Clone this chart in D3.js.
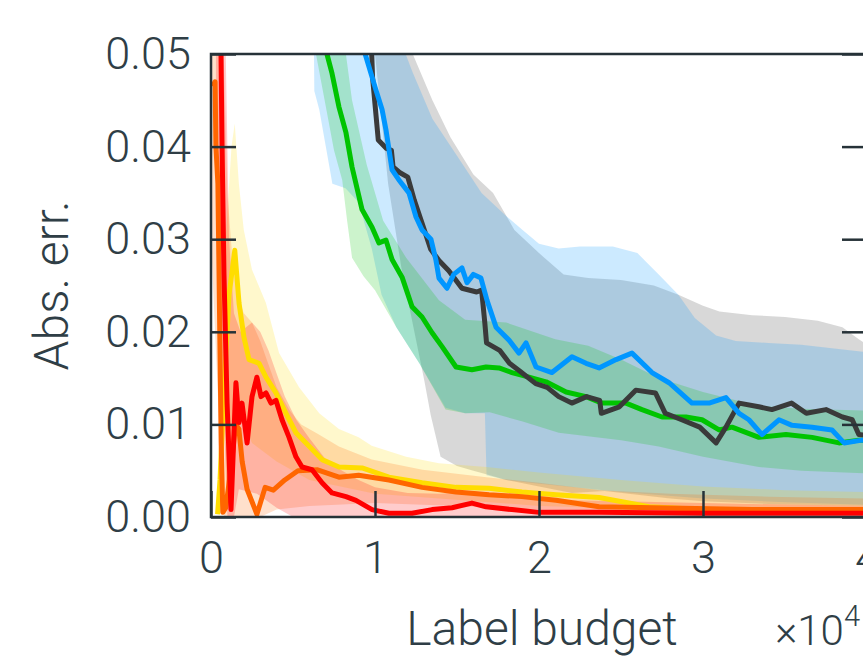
<!DOCTYPE html>
<html>
<head>
<meta charset="utf-8">
<script src="https://d3js.org/d3.v7.min.js"></script>
<style>
  body { margin: 0; background: #fff; }
  text { font-family: Roboto, "Open Sans", sans-serif; font-weight: 300; fill: #2f3e46; }
</style>
</head>
<body>
<script>
// tick values
const budgetTicks = [0, 10000, 20000, 30000, 40000];
const errTicks = [0, 0.01, 0.02, 0.03, 0.04, 0.05];

// mean lines  [label budget, abs. error]
const blackLine = [[9700,0.056],[9800,0.050],[9850,0.0475],[10200,0.0407],[10700,0.0398],[11000,0.0396],[11100,0.0378],[11500,0.0372],[12000,0.0367],[12400,0.0342],[12800,0.0321],[13400,0.0289],[13900,0.0277],[14500,0.0266],[15300,0.0247],[16200,0.0243],[16500,0.0245],[16700,0.0209],[16800,0.0188],[17600,0.0180],[18200,0.0166],[18800,0.0158],[19800,0.0144],[20500,0.0140],[21200,0.0130],[22000,0.0123],[22900,0.0130],[23700,0.0126],[23800,0.0112],[24900,0.0119],[25900,0.0137],[27100,0.0134],[27700,0.0112],[28700,0.0105],[29800,0.0097],[30800,0.0080],[31400,0.0097],[32200,0.0123],[33400,0.0119],[34200,0.0116],[35400,0.0123],[36300,0.0112],[37500,0.0116],[38500,0.0108],[39100,0.0105],[39500,0.0089],[40000,0.0088]];
const blueLine = [[9200,0.056],[9400,0.050],[10060,0.0461],[10430,0.0440],[10670,0.0418],[11040,0.0375],[11460,0.0364],[12070,0.0350],[12500,0.0324],[12870,0.0310],[13410,0.0300],[13720,0.0277],[13900,0.0258],[14390,0.0247],[14800,0.0262],[15300,0.0269],[15610,0.0253],[16000,0.0262],[16460,0.0258],[16830,0.0234],[17380,0.0205],[18170,0.0191],[18780,0.0177],[19210,0.0188],[19820,0.0162],[20790,0.0156],[22010,0.0173],[22870,0.0166],[23660,0.0161],[24700,0.0170],[25670,0.0177],[26890,0.0156],[27930,0.0145],[29330,0.0123],[30370,0.0123],[31400,0.0129],[32200,0.0112],[32800,0.0105],[33600,0.0089],[34630,0.0105],[35430,0.0099],[36650,0.0097],[37870,0.0094],[38600,0.0080],[39700,0.0083],[40000,0.0082]];
const greenLine = [[6700,0.056],[7070,0.050],[7380,0.0479],[7800,0.0443],[8230,0.0415],[8600,0.0378],[9210,0.0332],[9820,0.0313],[10240,0.0296],[10670,0.0299],[11040,0.0278],[11650,0.0259],[12260,0.0227],[12870,0.0216],[13480,0.0199],[14090,0.0184],[14940,0.0162],[15910,0.0159],[16770,0.0162],[17560,0.0161],[18350,0.0156],[19390,0.0151],[20430,0.0146],[21650,0.0135],[22870,0.0130],[23840,0.0123],[25300,0.0123],[26280,0.0116],[27500,0.0108],[28960,0.0108],[29940,0.0105],[30980,0.0094],[31770,0.0097],[33410,0.0086],[35060,0.0089],[36650,0.0086],[38290,0.0080],[39510,0.0083],[40000,0.0083]];
const yellowLine = [[400,0.0003],[550,0.004],[800,0.014],[1100,0.024],[1450,0.0288],[1710,0.0231],[2010,0.0194],[2320,0.0170],[2930,0.0166],[3350,0.0151],[3960,0.0134],[4570,0.0112],[5180,0.0091],[5790,0.0080],[6770,0.0062],[7800,0.0054],[9210,0.0053],[10850,0.0043],[12870,0.0037],[14940,0.0032],[16950,0.0031],[18960,0.0027],[21040,0.0024],[23660,0.0021],[26710,0.0011],[30000,0.0008],[35000,0.0006],[40000,0.0005]];
const orangeLine = [[100,0.0465],[250,0.047],[300,0.040],[420,0.036],[520,0.022],[620,0.008],[720,0.0005],[900,0.001],[1200,0.005],[1500,0.0100],[1700,0.0095],[1900,0.006],[2200,0.003],[2800,0.0003],[3300,0.0032],[3800,0.0029],[4500,0.0040],[5300,0.0050],[6500,0.0051],[7800,0.0043],[9000,0.0045],[10850,0.0040],[12870,0.0032],[14940,0.0027],[16950,0.0024],[18960,0.0022],[21040,0.0018],[23660,0.0011],[27000,0.0010],[33000,0.0008],[40000,0.0008]];
const redLine = [[450,0.058],[610,0.050],[670,0.0407],[790,0.0263],[980,0.0123],[1220,0.0008],[1520,0.0145],[1710,0.0102],[1890,0.0123],[2200,0.0080],[2500,0.0130],[2800,0.0151],[3050,0.0130],[3350,0.0134],[3660,0.0123],[3960,0.0126],[4330,0.0105],[4760,0.0086],[5180,0.0065],[5550,0.0054],[6160,0.0051],[6770,0.0037],[7380,0.0026],[8230,0.0022],[8840,0.0018],[9820,0.0008],[10850,0.0004],[12260,0.0004],[13480,0.0008],[14700,0.0010],[15910,0.0015],[16770,0.0011],[18350,0.0008],[20000,0.0005],[23660,0.0005],[30000,0.0004],[40000,0.0004]];

// spread bands: upper and lower edges
const blackUpper = [[9000,0.065],[12300,0.050],[13500,0.045],[14600,0.041],[16000,0.037],[17200,0.035],[18500,0.031],[20000,0.0285],[21500,0.0262],[23000,0.0258],[25000,0.0256],[27000,0.0250],[28500,0.0240],[30000,0.0228],[31000,0.0222],[33000,0.0218],[35000,0.0216],[37000,0.0212],[38500,0.0205],[39500,0.0192],[40000,0.0186]];
const blackLower = [[9500,0.065],[10000,0.050],[10800,0.036],[11600,0.027],[12400,0.020],[13000,0.0148],[13400,0.0110],[14000,0.0065],[15000,0.0055],[16000,0.0050],[17000,0.0045],[18000,0.0040],[20000,0.0033],[22000,0.0026],[24000,0.0028],[26000,0.0024],[28000,0.0020],[30000,0.0017],[34000,0.0014],[40000,0.0012]];
const blueUpper = [[9200,0.065],[11000,0.054],[12300,0.048],[13500,0.043],[15000,0.039],[16500,0.035],[18000,0.0325],[19000,0.031],[20000,0.0295],[21200,0.0290],[22500,0.0292],[24500,0.0292],[26000,0.0285],[27300,0.0262],[28500,0.0240],[29500,0.0215],[30800,0.0196],[32000,0.0190],[34000,0.0188],[36000,0.0186],[38000,0.0182],[40000,0.0178]];
const blueLower = [[6200,0.065],[6300,0.046],[6600,0.044],[7000,0.040],[7400,0.036],[8200,0.0355],[9000,0.034],[9800,0.029],[10400,0.024],[11300,0.0205],[12700,0.0166],[14300,0.0118],[15500,0.0112],[16700,0.0112],[16800,0.0045],[18000,0.0040],[20000,0.0036],[25000,0.0027],[30000,0.0020],[35000,0.0016],[40000,0.0013]];
const greenUpper = [[7500,0.065],[8000,0.053],[8600,0.045],[9500,0.038],[10500,0.032],[11900,0.028],[13900,0.0234],[15500,0.0213],[18000,0.0210],[21000,0.0192],[23000,0.0185],[25000,0.0170],[27300,0.0150],[30000,0.0135],[33400,0.0120],[36000,0.0117],[40000,0.0115]];
const greenLower = [[6300,0.065],[6400,0.050],[7500,0.0396],[8000,0.0364],[8300,0.032],[8600,0.028],[9300,0.026],[10000,0.0245],[11300,0.0205],[12700,0.0166],[14300,0.0116],[15500,0.0112],[17000,0.0113],[19000,0.0103],[21200,0.0091],[25000,0.0083],[27300,0.0076],[30000,0.0065],[33400,0.0054],[36000,0.0050],[40000,0.0047]];
const yellowUpper = [[900,0.030],[1250,0.040],[1450,0.0425],[1700,0.036],[2000,0.031],[2500,0.0267],[3350,0.0231],[4150,0.0177],[5370,0.0140],[6600,0.0112],[7800,0.0095],[9000,0.0086],[9800,0.0077],[11900,0.0065],[13900,0.0058],[16800,0.0054],[20000,0.0048],[25000,0.0040],[30000,0.0033],[35000,0.0029],[40000,0.0027]];
const yellowLower = [[900,0.0],[1500,0.012],[2500,0.008],[4000,0.006],[6000,0.004],[10000,0.0025],[20000,0.0012],[40000,0.0002]];
const orangeUpper = [[0,0.065],[700,0.055],[1000,0.035],[1300,0.028],[1600,0.024],[2000,0.022],[2500,0.021],[3000,0.019],[3500,0.0165],[4000,0.0140],[4800,0.0115],[5500,0.0100],[6500,0.0090],[7800,0.0076],[9800,0.0062],[12900,0.0051],[16800,0.0043],[20000,0.0037],[23700,0.0029],[28000,0.0025],[34000,0.0022],[40000,0.0020]];
const orangeLower = [[0,0.030],[500,0.010],[800,0.0],[3000,0.0],[4000,0.0008],[6000,0.0012],[10000,0.0015],[15000,0.0012],[20000,0.0008],[30000,0.0004],[40000,0.0003]];
const redUpper = [[300,0.065],[900,0.050],[1100,0.030],[1400,0.022],[1800,0.020],[2500,0.021],[3000,0.020],[3500,0.018],[4000,0.0155],[4500,0.0130],[5200,0.0105],[6000,0.0085],[7000,0.0062],[8000,0.0050],[9000,0.0040],[10000,0.0032],[12000,0.0026],[14000,0.0025],[16000,0.0028],[18000,0.0022],[22000,0.0018],[30000,0.0015],[40000,0.0012]];
const redLower = [[300,0.040],[800,0.010],[1000,0.0],[1400,0.0],[1700,0.0030],[2800,0.0025],[4000,0.0010],[5000,0.0],[40000,0.0]];

const series = [
  {key:"green",  color:"#00c400", line:greenLine,  up:greenUpper,  lo:greenLower},
  {key:"black",  color:"#3a3a3a", line:blackLine,  up:blackUpper,  lo:blackLower},
  {key:"blue",   color:"#0096ff", line:blueLine,   up:blueUpper,   lo:blueLower},
  {key:"yellow", color:"#ffdd00", line:yellowLine, up:yellowUpper, lo:yellowLower},
  {key:"orange", color:"#ff6600", line:orangeLine, up:orangeUpper, lo:orangeLower},
  {key:"red",    color:"#ff0000", line:redLine,    up:redUpper,    lo:redLower}
];
const bandOrder = ["black","blue","green","yellow","orange","red"];

const W = 863, H = 657;
const pLeft = 211, pTop = 54, pRight = 867, pBottom = 517;
const axisColor = "#263238";

const x = d3.scaleLinear().domain([0, 40000]).range([pLeft, pRight]);
const y = d3.scaleLinear().domain([0, 0.05]).range([pBottom, pTop]);

const svg = d3.select("body").append("svg")
  .attr("width", W).attr("height", H);

svg.append("clipPath").attr("id", "plotclip")
  .append("rect").attr("x", pLeft).attr("y", pTop)
  .attr("width", pRight - pLeft).attr("height", pBottom - pTop);

const plot = svg.append("g").attr("clip-path", "url(#plotclip)");
const line = d3.line().x(d => x(d[0])).y(d => y(d[1]));

// bands
bandOrder.forEach(k => {
  const s = series.find(d => d.key === k);
  const poly = s.up.concat(s.lo.slice().reverse());
  plot.append("path")
    .attr("d", line(poly) + "Z")
    .attr("fill", s.color)
    .attr("fill-opacity", 0.2)
    .attr("stroke", "none");
});

// mean lines
series.forEach(s => {
  plot.append("path")
    .attr("d", line(s.line))
    .attr("fill", "none")
    .attr("stroke", s.color)
    .attr("stroke-width", 5)
    .attr("stroke-linejoin", "round");
});

// axes
const fs = 45;
const yAxis = d3.axisLeft(y).tickValues(errTicks).tickFormat(d3.format(".2f"))
  .tickSize(-25).tickSizeOuter(0).tickPadding(20);
const yAxisR = d3.axisRight(y).tickValues(errTicks).tickFormat("")
  .tickSize(-25).tickSizeOuter(0);
const xAxis = d3.axisBottom(x).tickValues(budgetTicks).tickFormat(d => d / 1e4)
  .tickSize(-26).tickSizeOuter(0).tickPadding(24);

function styleAxis(g) {
  g.selectAll(".domain").remove();
  g.selectAll(".tick line").attr("stroke", axisColor).attr("stroke-width", 2.5);
  g.selectAll(".tick text").attr("font-size", fs).attr("fill", "#2f3e46")
    .attr("font-family", "Roboto, sans-serif").attr("font-weight", 300);
}

svg.append("g").attr("transform", `translate(${pLeft},0)`).call(yAxis).call(styleAxis);
svg.append("g").attr("transform", `translate(${pRight},0)`).call(yAxisR).call(styleAxis);
svg.append("g").attr("transform", `translate(0,${pBottom})`).call(xAxis).call(styleAxis);

// frame
svg.append("rect")
  .attr("x", pLeft).attr("y", pTop)
  .attr("width", pRight - pLeft).attr("height", pBottom - pTop)
  .attr("fill", "none").attr("stroke", axisColor).attr("stroke-width", 2.5);

// labels
svg.append("text")
  .attr("transform", `translate(68,${(pTop + pBottom) / 2}) rotate(-90)`)
  .attr("text-anchor", "middle")
  .attr("font-size", 48)
  .text("Abs. err.");

svg.append("text")
  .attr("x", 542).attr("y", 645)
  .attr("text-anchor", "middle")
  .attr("font-size", 48)
  .text("Label budget");

const off = svg.append("text")
  .attr("x", 860).attr("y", 645)
  .attr("text-anchor", "end")
  .attr("font-size", 42);
off.append("tspan").text("×10");
off.append("tspan").attr("dy", -19).attr("font-size", 29).text("4");
</script>
</body>
</html>
